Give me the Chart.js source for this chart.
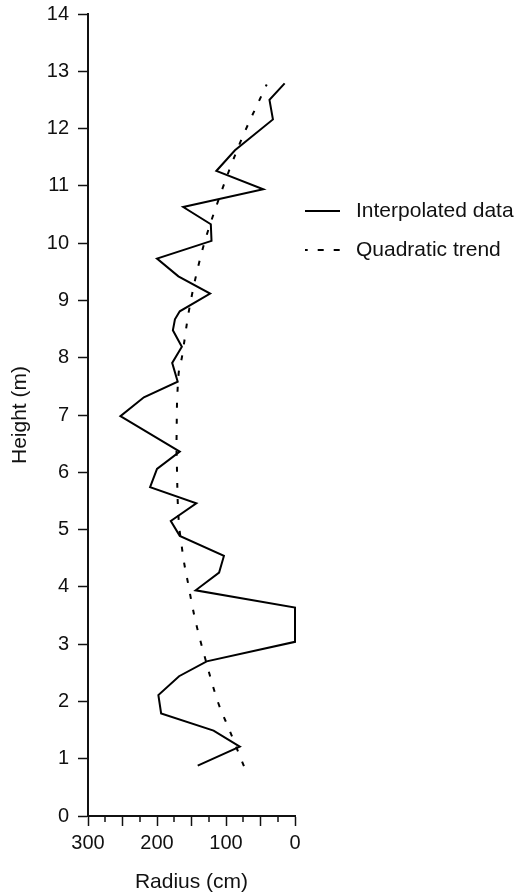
<!DOCTYPE html>
<html>
<head>
<meta charset="utf-8">
<script src="https://cdn.jsdelivr.net/npm/chart.js@4"></script>
<style>
  html, body { margin: 0; padding: 0; background: #fff; }
  #wrap { position: relative; width: 522px; height: 896px; }
</style>
</head>
<body>
<div id="wrap"><canvas id="c" width="522" height="896"></canvas></div>
<script>
// ---- data ----
const dataHeights = [0.88,1.21,1.49,1.79,2.11,2.44,2.70,3.04,3.64,3.94,4.25,4.54,4.89,5.15,5.46,5.74,6.06,6.36,6.98,7.31,7.58,7.91,8.19,8.48,8.67,8.81,9.12,9.42,9.73,10.04,10.33,10.63,10.94,11.26,11.62,12.16,12.50,12.79];
const dataRadius  = [141,80,118,194,198,168,128,0,0,144,110,103,167,180,143,210,200,167,253,219,170,178,164,177,174,167,123,169,200,121,122,162,46,114,87,32,37,15];
const trendHeights = [0.87,1.5,2.0,2.7,3.5,4.0,4.7,5.5,6.4,7.2,8.0,8.8,9.8,10.75,11.74,12.77];
const trendRadius  = [74,95,112,129,146,154,164,170,172,171,164,154,136,111,80,41];
const seriesLabels = ['Interpolated data', 'Quadratic trend'];
const xTickLabels = [300, 200, 100, 0];
const yTickLabels = [0,1,2,3,4,5,6,7,8,9,10,11,12,13,14];
const xTitle = 'Radius (cm)';
const yTitle = 'Height (m)';

const FONT = '"Liberation Sans", Arial, Helvetica, sans-serif';
const INK = '#111';

const toPts = (xs, ys) => xs.map((x, i) => ({ x: x, y: ys[i] }));

const minorTicks = {
  id: 'minorTicks',
  afterDraw(chart) {
    const ctx = chart.ctx, xs = chart.scales.x, area = chart.chartArea;
    ctx.save();
    ctx.strokeStyle = INK;
    ctx.lineWidth = 1.5;
    for (let v = 25; v < 300; v += 50) {
      const px = Math.round(xs.getPixelForValue(v));
      ctx.beginPath();
      ctx.moveTo(px, area.bottom);
      ctx.lineTo(px, area.bottom + 6);
      ctx.stroke();
    }
    ctx.restore();
  }
};

const sideLegend = {
  id: 'sideLegend',
  afterDraw(chart) {
    const ctx = chart.ctx;
    const x0 = 305, x1 = 340, tx = 356;
    const rows = [211, 250];
    ctx.save();
    chart.data.datasets.forEach((ds, i) => {
      const y = rows[i];
      ctx.strokeStyle = ds.borderColor;
      ctx.lineWidth = ds.borderWidth;
      ctx.setLineDash(ds.borderDash ? [6, 10] : []);
      ctx.lineDashOffset = ds.borderDash ? 3.3 : 0;
      ctx.beginPath();
      ctx.moveTo(x0, y);
      ctx.lineTo(x1, y);
      ctx.stroke();
      ctx.setLineDash([]);
      ctx.fillStyle = INK;
      ctx.font = '21px ' + FONT;
      ctx.textBaseline = 'middle';
      ctx.textAlign = 'left';
      ctx.fillText(ds.label, tx, y);
    });
    ctx.restore();
  }
};

new Chart(document.getElementById('c'), {
  type: 'scatter',
  data: {
    datasets: [
      {
        label: seriesLabels[0],
        data: toPts(dataRadius, dataHeights),
        showLine: true,
        borderColor: '#000',
        borderWidth: 2,
        pointRadius: 0,
        tension: 0,
        clip: false
      },
      {
        label: seriesLabels[1],
        data: toPts(trendRadius, trendHeights),
        showLine: true,
        borderColor: '#000',
        borderWidth: 2,
        borderDash: [5, 11],
        pointRadius: 0,
        tension: 0.4,
        cubicInterpolationMode: 'monotone',
        clip: false
      }
    ]
  },
  options: {
    responsive: false,
    animation: false,
    devicePixelRatio: 1,
    layout: { padding: { left: 0, right: 227, top: 14, bottom: 0 } },
    plugins: { legend: { display: false }, tooltip: { enabled: false } },
    scales: {
      x: {
        type: 'linear',
        reverse: true,
        min: 0, max: 300,
        afterFit(s) { s.height = 80; s.paddingLeft = 0; s.paddingRight = 0; },
        afterBuildTicks(s) {
          const t = [];
          for (let v = 0; v <= 300; v += 50) t.push({ value: v });
          s.ticks = t;
        },
        ticks: {
          autoSkip: false,
          maxRotation: 0,
          color: INK,
          padding: 5,
          font: { family: FONT, size: 20 },
          callback: (v) => xTickLabels.includes(v) ? String(v) : ''
        },
        grid: {
          drawOnChartArea: false,
          drawTicks: true,
          tickLength: 10,
          tickColor: INK,
          tickWidth: 1.5
        },
        border: { display: true, color: INK, width: 2 },
        title: {
          display: true, text: xTitle, color: INK,
          font: { family: FONT, size: 21 },
          padding: { top: 0, bottom: 1 }
        }
      },
      y: {
        type: 'linear',
        min: 0, max: 14,
        afterFit(s) { s.width = 88; s.paddingTop = 0; s.paddingBottom = 0; },
        afterBuildTicks(s) { s.ticks = yTickLabels.map(v => ({ value: v })); },
        ticks: {
          autoSkip: false,
          color: INK,
          padding: 9,
          font: { family: FONT, size: 20 },
          callback: (v) => String(v)
        },
        grid: {
          drawOnChartArea: false,
          drawTicks: true,
          tickLength: 10,
          tickColor: INK,
          tickWidth: 1.5
        },
        border: { display: true, color: INK, width: 2 },
        title: {
          display: true, text: yTitle, color: INK,
          font: { family: FONT, size: 21 },
          padding: { top: 8, bottom: 0 }
        }
      }
    }
  },
  plugins: [minorTicks, sideLegend]
});
</script>
</body>
</html>
